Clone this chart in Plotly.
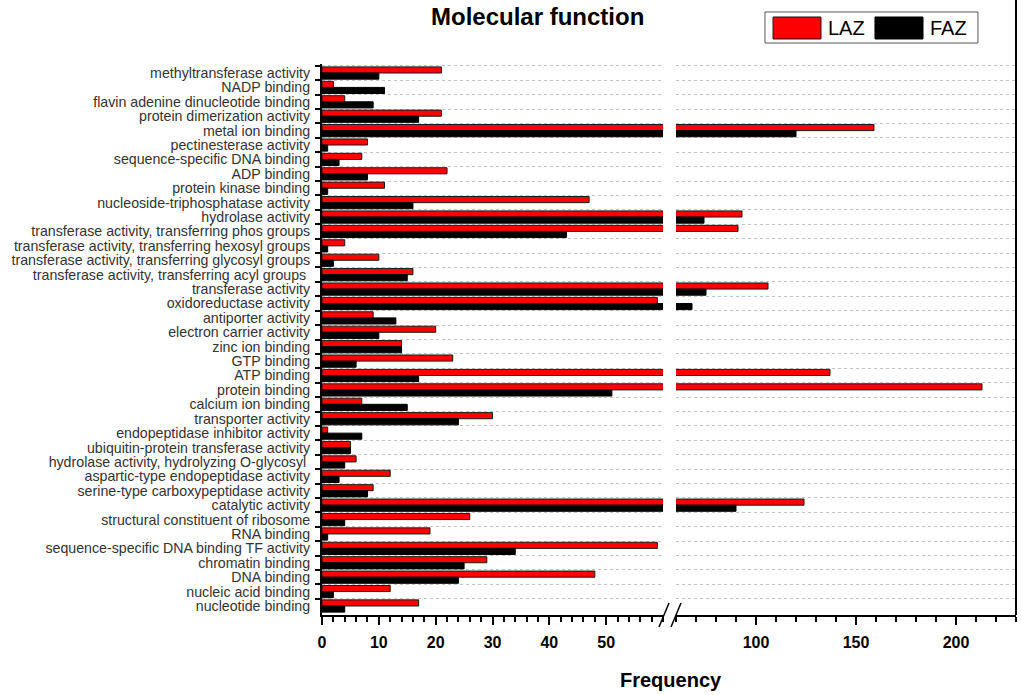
import plotly.graph_objects as go

categories = [
    "methyltransferase activity",
    "NADP binding",
    "flavin adenine dinucleotide binding",
    "protein dimerization activity",
    "metal ion binding",
    "pectinesterase activity",
    "sequence-specific DNA binding",
    "ADP binding",
    "protein kinase binding",
    "nucleoside-triphosphatase activity",
    "hydrolase activity",
    "transferase activity, transferring phos groups",
    "transferase activity, transferring hexosyl groups",
    "transferase activity, transferring glycosyl groups",
    "transferase activity, transferring acyl groups ",
    "transferase activity",
    "oxidoreductase activity",
    "antiporter activity",
    "electron carrier activity",
    "zinc ion binding",
    "GTP binding",
    "ATP binding",
    "protein binding",
    "calcium ion binding",
    "transporter activity",
    "endopeptidase inhibitor activity",
    "ubiquitin-protein transferase activity",
    "hydrolase activity, hydrolyzing O-glycosyl ",
    "aspartic-type endopeptidase activity",
    "serine-type carboxypeptidase activity",
    "catalytic activity",
    "structural constituent of ribosome",
    "RNA binding",
    "sequence-specific DNA binding TF activity",
    "chromatin binding",
    "DNA binding",
    "nucleic acid binding",
    "nucleotide binding",
]

laz = [21, 2, 4, 21, 159, 8, 7, 22, 11, 47, 93, 91, 4, 10, 16, 106, 59, 9, 20, 14,
       23, 137, 213, 7, 30, 1, 5, 6, 12, 9, 124, 26, 19, 59, 29, 48, 12, 17]
faz = [10, 11, 9, 17, 120, 1, 3, 8, 1, 16, 74, 43, 1, 2, 15, 75, 68, 13, 10, 14,
       6, 17, 51, 15, 24, 7, 5, 4, 3, 8, 90, 4, 1, 34, 25, 24, 2, 4]

series_names = ["LAZ", "FAZ"]
left_ticks = [0, 10, 20, 30, 40, 50]
right_ticks = [100, 150, 200]

FONT = "Liberation Sans, Arial, sans-serif"

fig = go.Figure()
for xa in ["x", "x2"]:
    fig.add_trace(go.Bar(
        y=categories, x=laz, orientation="h", name=series_names[0],
        xaxis=xa, yaxis="y",
        marker=dict(color="#ff0000", line=dict(color="#1a1a1a", width=1)),
        showlegend=False, hoverinfo="x+y+name",
    ))
    fig.add_trace(go.Bar(
        y=categories, x=faz, orientation="h", name=series_names[1],
        xaxis=xa, yaxis="y",
        marker=dict(color="#000000", line=dict(color="#000000", width=1)),
        showlegend=False, hoverinfo="x+y+name",
    ))

tickfont = dict(family=FONT, size=16, color="#000", weight="bold")

fig.update_layout(
    width=1021, height=695,
    margin=dict(l=322, r=5, t=64, b=80),
    paper_bgcolor="white", plot_bgcolor="white",
    barmode="group", bargap=0.15, bargroupgap=0,
    showlegend=False,
    xaxis=dict(
        domain=[0, 0.4914], range=[0, 60], anchor="y",
        tickmode="array", tickvals=left_ticks,
        ticks="outside", ticklen=8, tickwidth=1.5, tickcolor="#000",
        minor=dict(tickmode="linear", tick0=0, dtick=2, ticks="outside",
                   ticklen=5, tickwidth=1.5, tickcolor="#000", showgrid=False),
        showline=True, linewidth=2, linecolor="#000",
        showgrid=False, zeroline=False, tickfont=tickfont, ticklabelstandoff=4,
    ),
    xaxis2=dict(
        domain=[0.5101, 1], range=[60, 230], anchor="y",
        tickmode="array", tickvals=right_ticks,
        ticks="outside", ticklen=8, tickwidth=1.5, tickcolor="#000",
        minor=dict(tickmode="linear", tick0=0, dtick=10, ticks="outside",
                   ticklen=5, tickwidth=1.5, tickcolor="#000", showgrid=False),
        showline=True, linewidth=2, linecolor="#000",
        showgrid=False, zeroline=False, tickfont=tickfont, ticklabelstandoff=4,
    ),
    yaxis=dict(
        type="category", categoryorder="array", categoryarray=categories,
        range=[37.625, -0.625], anchor="x",
        tickmode="linear", tick0=0, dtick=1,
        tickson="boundaries", ticks="outside", ticklen=5, tickwidth=1.5, tickcolor="#000",
        showline=True, linewidth=2, linecolor="#000",
        showgrid=True, gridcolor="#c4c4c4", griddash="dot", gridwidth=1,
        zeroline=False, ticklabelstandoff=7,
        tickfont=dict(family=FONT, size=14.2, color="#333"),
    ),
)

shapes = [
    # axis break marks
    dict(type="line", xref="paper", yref="paper", x0=0.4856, y0=-0.0218, x1=0.5, y1=0.0218,
         line=dict(color="#000", width=1.5)),
    dict(type="line", xref="paper", yref="paper", x0=0.5029, y0=-0.0218, x1=0.5173, y1=0.0218,
         line=dict(color="#000", width=1.5)),
    # right frame line
    dict(type="line", xref="paper", yref="paper", x0=1, y0=0, x1=1, y1=1.12,
         line=dict(color="#000", width=2)),
    # legend box
    dict(type="rect", xref="paper", yref="paper", x0=0.6383, y0=1.0381, x1=0.9452, y1=1.0944,
         line=dict(color="#555", width=1), fillcolor="white"),
    dict(type="rect", xref="paper", yref="paper", x0=0.6499, y0=1.0454, x1=0.7190, y1=1.0853,
         line=dict(color="#1a1a1a", width=1), fillcolor="#ff0000"),
    dict(type="rect", xref="paper", yref="paper", x0=0.7968, y0=1.0454, x1=0.8660, y1=1.0853,
         line=dict(color="#000", width=1), fillcolor="#000000"),
]
fig.update_layout(shapes=shapes)

annotations = [
    dict(text="Molecular function", xref="paper", yref="paper", x=0.3112, y=1.0871,
         xanchor="center", yanchor="middle", showarrow=False,
         font=dict(family=FONT, size=24, color="#000", weight="bold")),
    dict(text="Frequency", xref="paper", yref="paper", x=0.5029, y=-0.118,
         xanchor="center", yanchor="middle", showarrow=False,
         font=dict(family=FONT, size=20, color="#000", weight="bold")),
    dict(text=series_names[0], xref="paper", yref="paper", x=0.7262, y=1.0653,
         xanchor="left", yanchor="middle", showarrow=False,
         font=dict(family=FONT, size=20, color="#000")),
    dict(text=series_names[1], xref="paper", yref="paper", x=0.8732, y=1.0653,
         xanchor="left", yanchor="middle", showarrow=False,
         font=dict(family=FONT, size=20, color="#000")),
]
fig.update_layout(annotations=annotations)

fig.write_html(
    "out.html",
    config={"displayModeBar": False},
    post_script="document.body.style.margin='0';document.body.style.overflow='hidden';",
)
